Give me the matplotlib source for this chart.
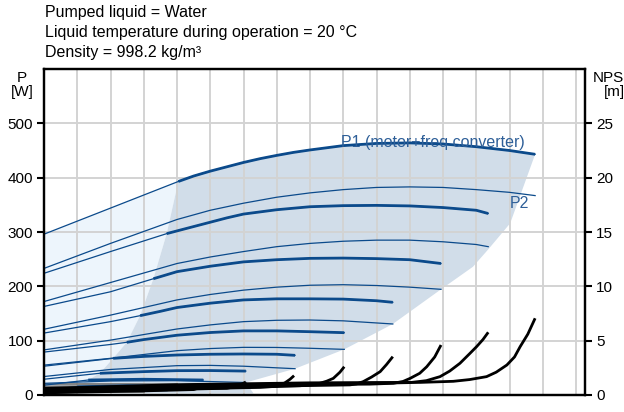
import matplotlib
matplotlib.use("Agg")
import matplotlib.pyplot as plt
import numpy as np

plt.rcParams['font.family'] = ['Liberation Sans', 'DejaVu Sans']

# flow axis has no labels: x is in grid units (16 grid cells), y in W / m
TITLE_LINES = ['Pumped liquid = Water',
               'Liquid temperature during operation = 20 °C',
               'Density = 998.2 kg/m³']

# P1 curves (motor + freq converter), one per speed, highest first
P1_X = [[0, 2, 4.04, 4.5, 5, 5.5, 6, 6.5, 7, 7.5, 8, 8.5, 9, 10, 11, 12, 13, 14, 14.77],
        [0, 2, 3.69, 4, 4.5, 5, 5.5, 6, 7, 8, 9, 10, 11, 12, 13, 13.36],
        [0, 2, 3.29, 4, 4.5, 5, 5.5, 6, 7, 8, 9, 10, 11, 11.94],
        [0, 2, 2.89, 3.5, 4, 5, 6, 7, 8, 9, 10, 10.49],
        [0, 2, 2.49, 3, 4, 5, 6, 7, 8, 9.03],
        [0, 2.08, 3, 4, 5, 6, 7, 7.55],
        [0, 1.68, 3, 4, 5, 6.07],
        [0, 1.33, 3, 4.79],
        [0, 1.0, 2.5, 3.7]]
P1_Y = [[296, 344, 393, 403, 412, 420, 428, 435, 441, 446.5, 451, 455, 459, 463, 464, 462, 457, 450, 443],
        [224, 264, 297, 302, 310, 318, 326, 333, 341, 346.5, 348.5, 349, 348, 345, 340, 334],
        [163, 190, 214, 227, 232, 237, 241, 245, 249, 251.5, 252, 251, 249, 242],
        [114, 135, 146, 154, 161, 169, 175, 177, 177, 176.5, 173.5, 170.6],
        [79, 93, 97, 102, 110, 115, 118, 118, 116.5, 114.7],
        [53, 67.5, 71, 73.6, 75, 75.5, 75, 73],
        [29, 40, 43, 44.8, 45, 44],
        [18, 27.6, 29, 27.6],
        [10, 15, 17, 16]]
# x where each P1 curve enters the operating area (drawn thick from there)
P1_THICK_FROM = [4.04, 3.69, 3.29, 2.89, 2.49, 2.08, 1.68, 1.33, 1.0]

# P2 curves (shaft power)
P2_X = [[0, 2, 4, 5, 6, 7, 8, 9, 10, 11, 12, 13, 14, 14.77],
        [0, 2, 4, 5, 6, 7, 8, 9, 10, 11, 12, 13, 13.36],
        [0, 2, 4, 5, 6, 7, 8, 9, 10, 11, 11.94],
        [0, 2, 4, 5, 6, 7, 8, 9, 10.49],
        [0, 2, 4, 5, 6, 7, 8, 9.03],
        [0, 2, 4, 5, 6, 7.55],
        [0, 2, 4, 6.07],
        [0, 2, 4.79],
        [0, 2, 3.7]]
P2_Y = [[233, 279, 323, 340, 353, 364, 372, 378, 382, 383, 382, 378, 373, 367],
        [172, 207, 242, 254, 264, 273, 279, 283, 285, 285, 282, 277, 273],
        [121, 147, 175, 185, 193, 198.5, 202, 203, 201.5, 198.5, 194.5],
        [83, 101, 121.5, 129, 135, 137.5, 138, 136.5, 130.7],
        [55, 67.5, 81.6, 85.5, 87.7, 87.5, 86, 84],
        [34, 47, 54, 54.5, 53, 48.4],
        [21.5, 25.8, 26.4, 23],
        [12, 15, 14],
        [7, 9, 8]]

# faint grey curves in the crowded lower-left corner
GREY_X = [[0, 4.0], [0, 3.5], [0, 4.5], [0, 3.0]]
GREY_Y = [[21, 21], [16, 17], [11, 12], [6, 6]]

# NPSH curves [m], right axis
NPSH_X = [[0, 4, 8, 10, 11.31, 12.31, 12.8, 13.31, 13.6, 13.92, 14.15, 14.32, 14.55, 14.77],
          [0, 4, 8, 10, 11.0, 11.5, 11.91, 12.2, 12.51, 12.8, 13.01, 13.2, 13.36],
          [0, 4, 8, 9.8, 10.51, 10.8, 11.01, 11.3, 11.51, 11.75, 11.94],
          [0, 4, 8, 9.2, 9.4, 9.6, 9.85, 10.11, 10.3, 10.49],
          [0, 4, 7.0, 7.7, 8.0, 8.3, 8.5, 8.7, 8.9, 9.03],
          [0, 4, 6.5, 6.9, 7.1, 7.25, 7.4, 7.52],
          [0, 3, 5.5, 5.8, 5.95, 6.07],
          [0, 3, 4.5, 4.65, 4.79]]
NPSH_Y = [[0.6, 0.95, 1.12, 1.15, 1.16, 1.26, 1.42, 1.69, 2.1, 2.76, 3.5, 4.45, 5.6, 7.06],
          [0.55, 0.88, 1.04, 1.08, 1.14, 1.32, 1.69, 2.2, 2.92, 3.8, 4.45, 5.1, 5.77],
          [0.5, 0.8, 0.96, 1.0, 1.08, 1.25, 1.53, 2.0, 2.6, 3.5, 4.6],
          [0.45, 0.72, 0.87, 0.93, 1.02, 1.23, 1.65, 2.15, 2.8, 3.53],
          [0.4, 0.64, 0.78, 0.85, 0.95, 1.08, 1.27, 1.53, 2.1, 2.6],
          [0.32, 0.55, 0.7, 0.78, 0.9, 1.13, 1.45, 1.78],
          [0.25, 0.45, 0.62, 0.8, 1.0, 1.2],
          [0.2, 0.38, 0.5, 0.65, 0.8]]

# operating area outline: left edge (bottom->top) and right edge (bottom->top)
AREA_LEFT_X = [0.6, 0.9, 1.33, 1.68, 2.08, 2.49, 2.89, 3.29, 3.69, 4.04]
AREA_LEFT_Y = [3, 12, 27.6, 40, 67.5, 97, 146, 214, 297, 393]
AREA_RIGHT_X = [6.3, 6.07, 7.55, 9.03, 10.49, 11.94, 12.9, 13.36, 14.02, 14.77]
AREA_RIGHT_Y = [3, 23, 48.4, 84, 130.7, 194.5, 236, 268, 316, 443]

LEFT_TICKS = [0, 100, 200, 300, 400, 500]
RIGHT_TICKS = [0, 5, 10, 15, 20, 25]

BLUE = '#0b4a8b'
AREA = '#d1dde9'
LIGHT = '#edf5fc'

fig = plt.figure(figsize=(6.24, 4.12), dpi=100)
ax = fig.add_axes([44 / 624, 17 / 412, 541 / 624, 326 / 412])
ax.set_xlim(0, 16.27)
ax.set_ylim(0, 600)

# light area left of the operating area, under the max-speed P1 curve
top_x = [x for x in P1_X[0] if x <= P1_THICK_FROM[0]]
top_y = P1_Y[0][:len(top_x)]
light_x = [0] + top_x + AREA_LEFT_X[::-1]
light_y = [0] + top_y + AREA_LEFT_Y[::-1]
ax.fill(light_x, light_y, color=LIGHT, lw=0, zorder=0.8)

# operating area
top_idx = P1_X[0].index(P1_THICK_FROM[0])
area_x = AREA_LEFT_X + P1_X[0][top_idx:] + AREA_RIGHT_X[::-1]
area_y = AREA_LEFT_Y + P1_Y[0][top_idx:] + AREA_RIGHT_Y[::-1]
ax.fill(area_x, area_y, color=AREA, lw=0, zorder=0.9)

for xs, ys in zip(GREY_X, GREY_Y):
    ax.plot(xs, ys, color='#707070', lw=1.2, zorder=2)

for xs, ys in zip(P2_X, P2_Y):
    ax.plot(xs, ys, color=BLUE, lw=0.9, zorder=2)

for xs, ys, x0 in zip(P1_X, P1_Y, P1_THICK_FROM):
    ax.plot(xs, ys, color=BLUE, lw=0.9, zorder=2)
    i = xs.index(x0)
    ax.plot(xs[i:], ys[i:], color=BLUE, lw=2.0, zorder=2.1,
            solid_capstyle='butt', solid_joinstyle='round')

ax.text(8.93, 457, 'P1 (motor+freq converter)', color='#2e5f98',
        fontsize=11.5, va='baseline', zorder=3)
ax.text(14.02, 344, 'P2', color='#2e5f98', fontsize=11.5, va='baseline',
        zorder=3)

ax.set_xticks(np.arange(0, 17))
ax.set_yticks(LEFT_TICKS)
ax.set_yticks([600], minor=True)
ax.grid(True, color='#d3d3d3', lw=1.4)
ax.tick_params(axis='x', length=0, labelbottom=False)
ax.tick_params(axis='y', length=5, width=1.5, pad=3, labelsize=11)
ax.tick_params(axis='y', which='minor', length=0)
for s in ax.spines.values():
    s.set_linewidth(1.6)

ax2 = ax.twinx()
ax2.set_ylim(0, 30)
ax2.set_yticks(RIGHT_TICKS)
ax2.tick_params(axis='y', length=5, width=1.5, pad=3, labelsize=11)
for s in ax2.spines.values():
    s.set_linewidth(1.6)
for xs, ys in zip(NPSH_X, NPSH_Y):
    ax2.plot(xs, ys, color='black', lw=2.0, solid_capstyle='butt',
             solid_joinstyle='round')

for i, line in enumerate(TITLE_LINES):
    fig.text(45 / 624, 1 - (17.3 + 20 * i) / 412, line, fontsize=11.5,
             va='baseline', ha='left')

fig.text(22 / 624, 1 - 85 / 412, 'P\n[W]', fontsize=11, ha='center',
         va='center', linespacing=1.0)
# the reference cuts this label at the right edge of the picture
fig.text(614 / 624, 1 - 85 / 412, 'NPSH\n[m]', fontsize=11, ha='center',
         va='center', linespacing=1.0, multialignment='center')

fig.savefig('out.png', dpi=100)
